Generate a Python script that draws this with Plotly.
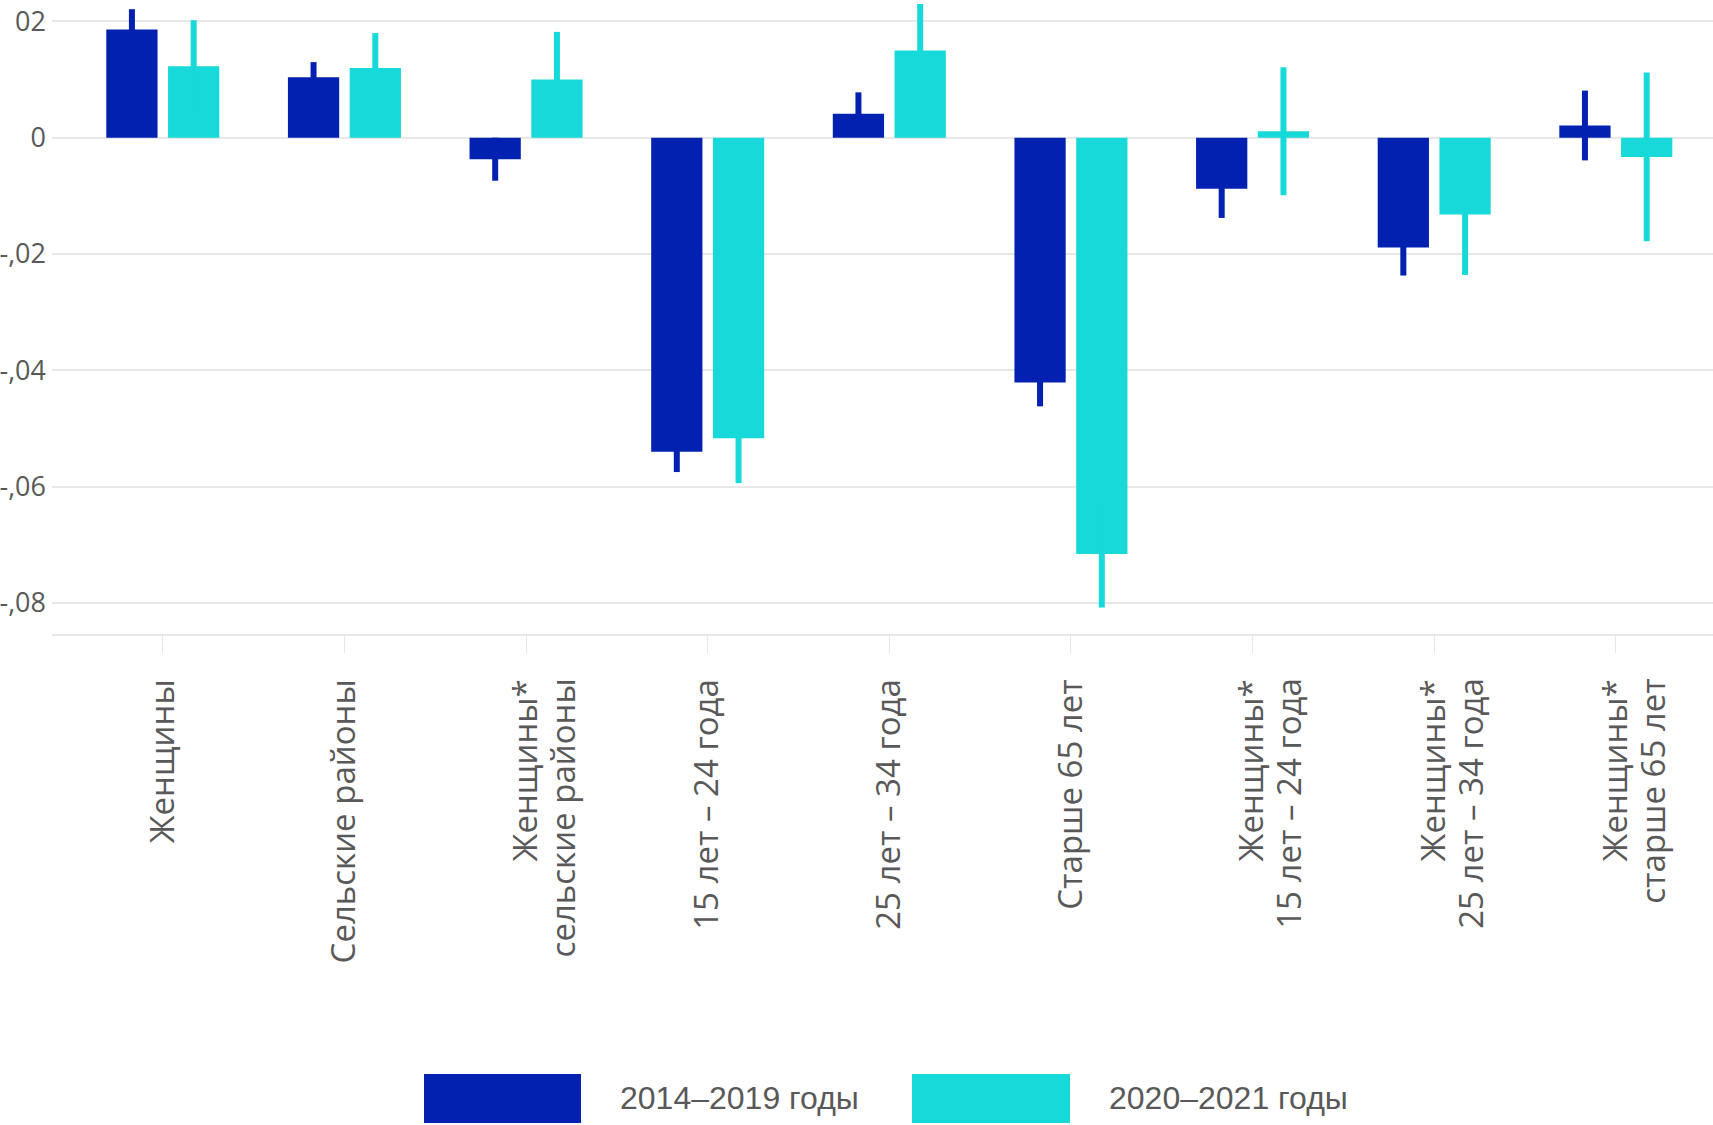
import plotly.graph_objects as go

# ---- data ----
categories = [
    "Женщины",
    "Сельские районы",
    "Женщины*<br>сельские районы",
    "15 лет – 24 года",
    "25 лет – 34 года",
    "Старше 65 лет",
    "Женщины*<br>15 лет – 24 года",
    "Женщины*<br>25 лет – 34 года",
    "Женщины*<br>старше 65 лет",
]
series_names = ["2014–2019 годы", "2020–2021 годы"]
values_2014_2019 = [0.0186, 0.0104, -0.0037, -0.0540, 0.0041, -0.0421, -0.0088, -0.0189, 0.0021]
errors_2014_2019 = [0.0035, 0.0026, 0.0037, 0.0035, 0.0037, 0.0041, 0.0050, 0.0048, 0.0060]
values_2020_2021 = [0.0123, 0.0120, 0.0100, -0.0517, 0.0150, -0.0716, 0.0011, -0.0132, -0.0033]
errors_2020_2021 = [0.0079, 0.0060, 0.0082, 0.0077, 0.0080, 0.0092, 0.0110, 0.0104, 0.0145]
y_tick_values = [0.02, 0, -0.02, -0.04, -0.06, -0.08]
y_tick_labels = ["02", "0", "-,02", "-,04", "-,06", "-,08"]

# ---- style ----
BLUE = "#0321B0"
CYAN = "#17D9D9"
TEXT = "#595959"
GRID = "#E8E8E8"
W, H = 1713, 1125
ML, MR, MT, MB = 52, 0, 0, 491
X_RANGE = [-0.61, 8.535]
LINE_STEP = 0.209          # second label line offset, in category units
TICK_FONT = dict(size=33, color=TEXT, family="Open Sans")
STANDOFF = 13

idx = list(range(len(categories)))
first_lines = [c.split("<br>")[0] for c in categories]
second_pos = [i + LINE_STEP for i, c in zip(idx, categories) if "<br>" in c]
second_lines = [c.split("<br>")[1] for c in categories if "<br>" in c]

fig = go.Figure()
for name, vals, errs, col in [
    (series_names[0], values_2014_2019, errors_2014_2019, BLUE),
    (series_names[1], values_2020_2021, errors_2020_2021, CYAN),
]:
    fig.add_trace(go.Bar(
        x=idx, y=vals, name=name,
        marker=dict(color=col, line=dict(width=0)),
        error_y=dict(type="data", array=errs, symmetric=True,
                     color=col, thickness=6, width=0),
        showlegend=False,
    ))

# empty helper trace so that the second-line label axis is drawn
fig.add_trace(go.Scatter(
    x=second_pos, y=[None] * len(second_pos), xaxis="x2", yaxis="y",
    mode="markers", showlegend=False, hoverinfo="skip",
))

plot_h = H - MT - MB
plot_w = W - ML - MR

def px_to_paper_x(px):
    return (px - ML) / plot_w

def px_to_paper_y(py):
    return (H - MB - py) / plot_h

# manual legend (large swatches)
shapes = []
annotations = []
legend_items = [(424, 581, 618), (912, 1070, 1107)]
for (x0, x1, tx), name, col in zip(legend_items, series_names, [BLUE, CYAN]):
    shapes.append(dict(type="rect", xref="paper", yref="paper",
                       x0=px_to_paper_x(x0), x1=px_to_paper_x(x1),
                       y0=px_to_paper_y(1123), y1=px_to_paper_y(1074),
                       fillcolor=col, line=dict(width=0)))
    annotations.append(dict(xref="paper", yref="paper",
                            x=px_to_paper_x(tx), y=px_to_paper_y(1098),
                            xanchor="left", yanchor="middle", showarrow=False,
                            text=name,
                            font=dict(family="Liberation Sans Narrow, Liberation Sans, sans-serif",
                                      size=32, color=TEXT)))

fig.update_layout(
    width=W, height=H,
    margin=dict(l=ML, r=MR, t=MT, b=MB, pad=0, autoexpand=False),
    paper_bgcolor="white", plot_bgcolor="white",
    barmode="group", bargap=0.32, bargroupgap=0.17,
    shapes=shapes, annotations=annotations,
    showlegend=False,
    font=dict(family="Open Sans, sans-serif", color=TEXT),
    xaxis=dict(
        range=X_RANGE, automargin=False,
        tickmode="array", tickvals=idx, ticktext=first_lines,
        tickangle=-90, tickfont=TICK_FONT,
        showline=True, linecolor=GRID, linewidth=2,
        ticks="outside", ticklen=17, tickcolor=GRID, tickwidth=1,
        ticklabelstandoff=STANDOFF,
        showgrid=False, zeroline=False,
    ),
    xaxis2=dict(
        overlaying="x", anchor="y", side="bottom",
        range=X_RANGE, automargin=False,
        tickmode="array", tickvals=second_pos, ticktext=second_lines,
        tickangle=-90, tickfont=TICK_FONT,
        showline=False, ticks="outside", ticklen=17, tickcolor="rgba(0,0,0,0)",
        ticklabelstandoff=STANDOFF,
        showgrid=False, zeroline=False,
    ),
    yaxis=dict(
        range=[-0.08535, 0.02368], automargin=False,
        tickmode="array", tickvals=y_tick_values, ticktext=y_tick_labels,
        tickfont=dict(size=27, color=TEXT, family="Open Sans"),
        showgrid=True, gridcolor=GRID, gridwidth=1.5,
        zeroline=True, zerolinecolor=GRID, zerolinewidth=1.5,
        ticks="", ticklabelstandoff=5,
    ),
)

fig.write_html(
    "out.html",
    config={"displayModeBar": False},
    post_script="document.body.style.margin='0';document.body.style.padding='0';",
)
